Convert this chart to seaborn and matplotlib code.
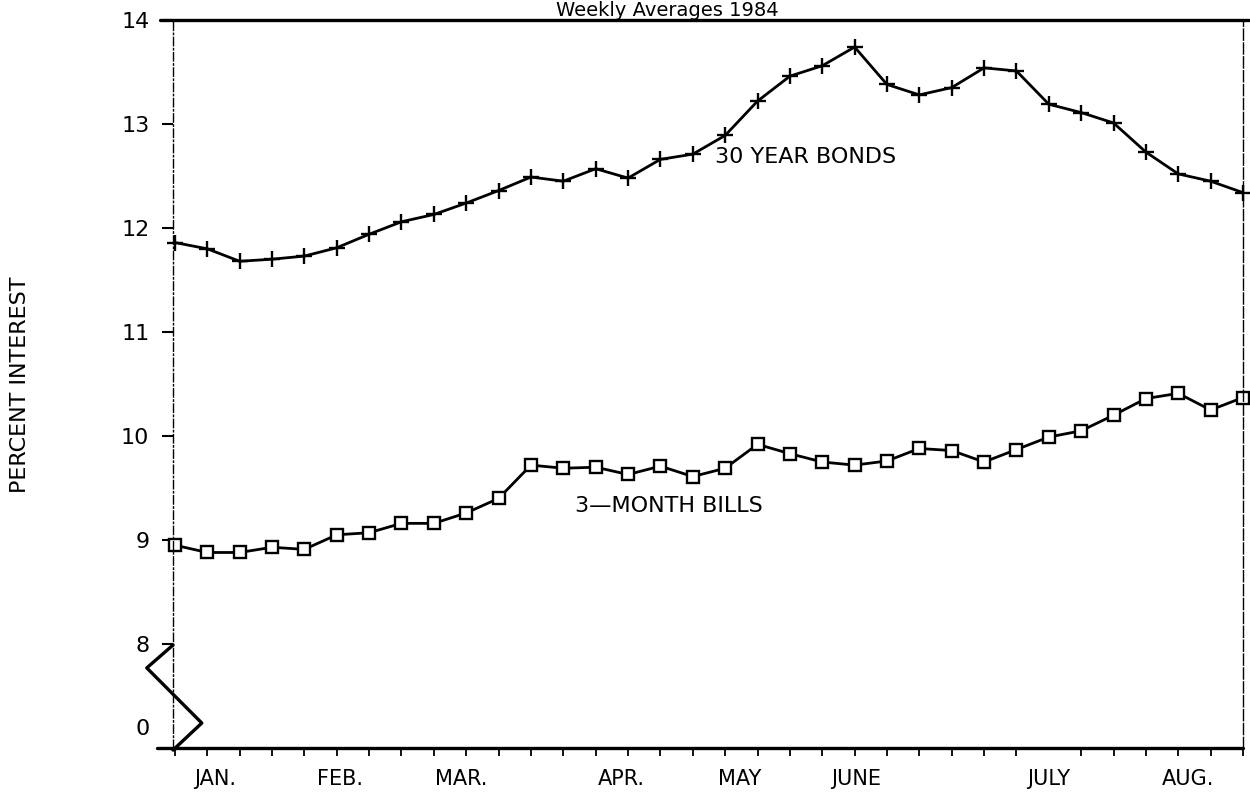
import matplotlib
matplotlib.use("Agg")
import matplotlib.pyplot as plt
import seaborn as sns
import pandas as pd

# ---- data -------------------------------------------------------------
weeks = list(range(34))
bonds = [11.86, 11.80, 11.68, 11.70, 11.73, 11.81, 11.94, 12.06, 12.13, 12.24,
         12.36, 12.49, 12.45, 12.57, 12.48, 12.66, 12.71, 12.89, 13.22, 13.46,
         13.56, 13.74, 13.38, 13.28, 13.35, 13.54, 13.51, 13.19, 13.11, 13.01,
         12.73, 12.52, 12.45, 12.34]
bills = [8.95, 8.88, 8.88, 8.93, 8.91, 9.05, 9.07, 9.16, 9.16, 9.26,
         9.40, 9.72, 9.69, 9.70, 9.63, 9.71, 9.61, 9.69, 9.92, 9.83,
         9.75, 9.72, 9.76, 9.88, 9.86, 9.75, 9.87, 9.99, 10.05, 10.20,
         10.36, 10.41, 10.25, 10.37]
month_labels = ["JAN.", "FEB.", "MAR.", "APR.", "MAY", "JUNE", "JULY", "AUG."]
month_pos = [1.25, 5.1, 8.85, 13.8, 17.45, 21.05, 27.0, 31.3]
ytick_pos = [7.2, 8, 9, 10, 11, 12, 13, 14]
ytick_labels = ["0", "8", "9", "10", "11", "12", "13", "14"]
break_x = [-0.06, -0.87, 0.83, -0.06]
break_y = [7.99, 7.77, 7.24, 6.98]

df = pd.DataFrame({"week": weeks, "bonds": bonds, "bills": bills})

sns.set_theme(style="white", rc={"text.color": "black", "xtick.color": "black",
                                 "ytick.color": "black", "axes.labelcolor": "black"})
plt.rcParams["font.family"] = ["DejaVu Sans"]

fig = plt.figure(figsize=(12.5, 8.01), dpi=100)
ax = fig.add_axes([173 / 1250, 1 - 748 / 801, (1243 - 173) / 1250, (748 - 20) / 801])

sns.lineplot(data=df, x="week", y="bonds", ax=ax, color="black", lw=2.0,
             marker="+", markersize=12, markeredgewidth=1.7,
             markeredgecolor="black", clip_on=False)
sns.lineplot(data=df, x="week", y="bills", ax=ax, color="black", lw=2.0,
             marker="s", markersize=8, markeredgewidth=1.7,
             markeredgecolor="black", markerfacecolor="white", clip_on=False)

ax.set_xlim(-0.06, 33.0)
ax.set_ylim(7.0, 14.0)

# y ticks
ax.set_yticks(ytick_pos, ytick_labels)
ax.tick_params(axis="y", which="major", direction="out", length=8, width=1.5,
               pad=9, labelsize=16, left=True, color="black", labelcolor="black")
ax.yaxis.get_major_ticks()[0].tick1line.set_visible(False)

# x ticks: weekly minor ticks, month labels as majors
ax.set_xticks(month_pos, month_labels)
ax.set_xticks(weeks, minor=True)
ax.tick_params(axis="x", which="major", length=0, pad=15, labelsize=15,
               labelcolor="black")
ax.tick_params(axis="x", which="minor", direction="out", length=6, width=1.3,
               bottom=True, color="black")
ax.set_xlabel("")
ax.set_ylabel("")

# spines
ax.spines["top"].set_visible(False)
ax.spines["bottom"].set_visible(False)
ax.spines["left"].set_linestyle((0, (6, 2, 1, 2)))
ax.spines["left"].set_linewidth(1.0)
ax.spines["left"].set_color("black")
ax.spines["right"].set_linestyle((0, (8, 2)))
ax.spines["right"].set_linewidth(1.0)
ax.spines["right"].set_color("black")
ax.plot([-0.012, 1.006], [1.0, 1.0], transform=ax.transAxes, color="black",
        lw=2.4, clip_on=False)
ax.plot([-0.015, 1.0], [0.0, 0.0], transform=ax.transAxes, color="black",
        lw=2.4, clip_on=False)

# axis break zigzag
ax.plot(break_x, break_y, color="black", lw=2.4, clip_on=False)

# series labels
ax.text(16.7, 12.68, "30 YEAR BONDS", fontsize=16, va="center", ha="left",
        color="black")
ax.text(12.35, 9.33, "3\u2014MONTH BILLS", fontsize=16, va="center", ha="left",
        color="black")

# title and y label
fig.text(667 / 1250, 1 - 1 / 801, "Weekly Averages 1984", fontsize=14,
         ha="center", va="top", color="black")
fig.text(20 / 1250, 1 - 385 / 801, "PERCENT INTEREST", rotation=90,
         fontsize=16, ha="center", va="center", color="black")

fig.savefig("out.png", dpi=100)
